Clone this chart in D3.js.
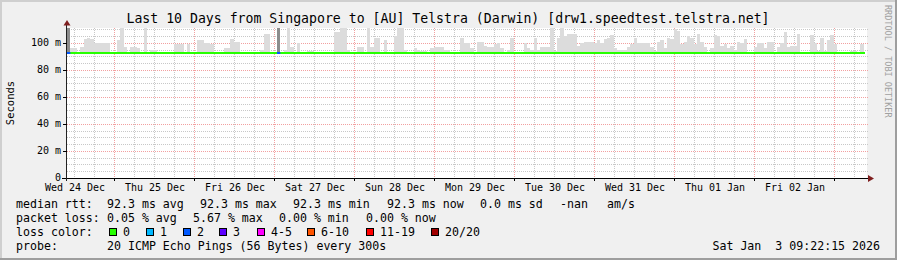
<!DOCTYPE html>
<html>
<head>
<meta charset="utf-8">
<script src="https://cdn.jsdelivr.net/npm/d3@7"></script>
<style>
 body { margin: 0; background: #f0f0f0; }
 svg { display: block; }
 text { font-family: "DejaVu Sans Mono", monospace; fill: #000; }
</style>
</head>
<body>
<script>
 // smokeping style graph: 10 days, one smoke value per hour

 var start = new Date(Date.UTC(2025, 11, 24, 9, 54)),
 	end = new Date(Date.UTC(2026, 0, 3, 9, 54));

 // median rtt in ms (flat for the whole period)
 var medianRtt = 92.3;

 // highest ping of each hour (ms), 0 = no smoke above the median
 var smokeTop = [
 	0, 96, 96, 0, 97, 103, 104, 103, 100, 100, 100, 100, 100, 0, 0, 102, 111, 97, 0, 97,
 	97, 96, 0, 111, 0, 95, 95, 0, 0, 0, 0, 0, 99, 99, 99, 0, 99, 0, 0, 102,
 	102, 100, 100, 99, 0, 0, 0, 96, 96, 103, 101, 101, 0, 0, 0, 0, 0, 0, 95, 107,
 	107, 0, 0, 0, 0, 95, 111, 97, 0, 100, 0, 0, 94, 94, 0, 0, 0, 0, 0, 0,
 	108, 108, 111, 111, 95, 0, 0, 97, 97, 0, 111, 97, 104, 104, 0, 102, 0, 0, 105, 111,
 	111, 95, 0, 0, 96, 95, 94, 94, 0, 96, 97, 97, 97, 95, 95, 93, 93, 0, 104, 100,
 	100, 96, 0, 101, 101, 98, 97, 97, 99, 100, 96, 0, 95, 104, 0, 0, 0, 100, 96, 95,
 	104, 95, 97, 97, 97, 111, 94, 104, 111, 105, 107, 107, 107, 98, 100, 101, 101, 101, 100, 102,
 	100, 103, 104, 106, 96, 95, 95, 95, 97, 99, 104, 100, 100, 100, 100, 97, 94, 101, 102, 96,
 	104, 103, 110, 109, 99, 101, 105, 104, 99, 107, 101, 97, 0, 96, 106, 105, 98, 99, 96, 98,
 	95, 101, 100, 103, 0, 0, 97, 100, 100, 96, 101, 101, 0, 97, 100, 108, 97, 98, 98, 107,
 	0, 0, 0, 106, 100, 94, 104, 94, 102, 106, 99, 0, 0, 0, 0, 94, 94, 0, 99, 0
 ];

 // hours with packet loss, and the loss class index for each
 var lossHours = [0, 63];
 var lossClass = [2, 2];
 var lossTop = 111;

 var lossLabels = ["0", "1", "2", "3", "4-5", "6-10", "11-19", "20/20"];
 var lossColors = ["#26ff00", "#00b8ff", "#0059ff", "#5e00ff", "#ff00ff", "#ff5500", "#ff0000", "#a10000"];

 var yLabels = [0, 20, 40, 60, 80, 100];

 var rttTexts = ["median rtt:", "92.3 ms avg", "92.3 ms max", "92.3 ms min", "92.3 ms now", "0.0 ms sd", "-nan", "am/s"];
 var lossTexts = ["packet loss:", "0.05 % avg", "5.67 % max", "0.00 % min", "0.00 % now"];
 var probeTexts = ["probe:", "20 ICMP Echo Pings (56 Bytes) every 300s"];
 var stamp = "Sat Jan  3 09:22:15 2026";
 var title = "Last 10 Days from Singapore to [AU] Telstra (Darwin) [drw1.speedtest.telstra.net]";

 // layout
 var W = 897, H = 260;
 var rttX = [16, 107, 200, 293, 387, 480, 560, 607];
 var lossX = [16, 107, 193, 279, 366];
 var probeX = [16, 107];
 var boxX = [109, 146, 183, 219, 257, 307, 366, 431];

 var svg = d3.select("body").append("svg")
 	.attr("width", W)
 	.attr("height", H);

 // background and 3d frame
 svg.append("rect").attr("width", W).attr("height", H).attr("fill", "#f0f0f0");
 svg.append("rect").attr("x", 0).attr("y", 0).attr("width", W).attr("height", 2).attr("fill", "#cfcfcf");
 svg.append("rect").attr("x", 0).attr("y", 0).attr("width", 2).attr("height", H).attr("fill", "#cfcfcf");
 svg.append("rect").attr("x", 0).attr("y", H - 2).attr("width", W).attr("height", 2).attr("fill", "#9e9e9e");
 svg.append("rect").attr("x", W - 2).attr("y", 0).attr("width", 2).attr("height", H).attr("fill", "#9e9e9e");

 var x = d3.scaleUtc().domain([start, end]).range([67, 867]);
 var y = d3.scaleLinear().domain([0, 111.1]).range([178, 28]);

 // canvas
 svg.append("rect")
 	.attr("x", x.range()[0]).attr("y", y.range()[1])
 	.attr("width", x.range()[1] - x.range()[0])
 	.attr("height", y.range()[0] - y.range()[1])
 	.attr("fill", "#ffffff");

 var grid = svg.append("g").attr("shape-rendering", "crispEdges");

 // minor grid lines, every 5 ms / 6 hours
 var yMinor = d3.range(5, 111, 5).filter(function (d) { return d % 20 != 0; });
 grid.selectAll(".hmin").data(yMinor).enter().append("line")
 	.attr("x1", 67).attr("x2", 869)
 	.attr("y1", function (d) { return Math.round(y(d)) + 0.5; })
 	.attr("y2", function (d) { return Math.round(y(d)) + 0.5; })
 	.attr("stroke", "#c8c8c8").attr("stroke-dasharray", "1,1");

 var xMinor = d3.utcHour.every(6).range(start, end).filter(function (d) { return d.getUTCHours() != 0; });
 grid.selectAll(".vmin").data(xMinor).enter().append("line")
 	.attr("x1", function (d) { return Math.round(x(d)) + 0.5; })
 	.attr("x2", function (d) { return Math.round(x(d)) + 0.5; })
 	.attr("y1", 28).attr("y2", 180)
 	.attr("stroke", "#c8c8c8").attr("stroke-dasharray", "1,1");

 // major grid lines (red)
 grid.selectAll(".hmaj").data(yLabels.slice(1)).enter().append("line")
 	.attr("x1", 63).attr("x2", 869)
 	.attr("y1", function (d) { return Math.round(y(d)) + 0.5; })
 	.attr("y2", function (d) { return Math.round(y(d)) + 0.5; })
 	.attr("stroke", "#f2a0a0").attr("stroke-dasharray", "1,1");

 var days = d3.utcDay.range(start, end);
 grid.selectAll(".vmaj").data(days).enter().append("line")
 	.attr("x1", function (d) { return Math.round(x(d)) + 0.5; })
 	.attr("x2", function (d) { return Math.round(x(d)) + 0.5; })
 	.attr("y1", 28).attr("y2", 181)
 	.attr("stroke", "#f2a0a0").attr("stroke-dasharray", "1,1");

 // smoke
 var hourStart = function (i) { return d3.utcHour.offset(start, i); };
 var smokeBars = smokeTop.map(function (v, i) { return { i: i, v: v }; })
 	.filter(function (d) { return d.v > medianRtt; });
 svg.append("g").attr("shape-rendering", "crispEdges")
 	.selectAll("rect").data(smokeBars).enter().append("rect")
 	.attr("x", function (d) { return x(hourStart(d.i)); })
 	.attr("width", function (d) { return x(hourStart(d.i + 1)) - x(hourStart(d.i)); })
 	.attr("y", function (d) { return y(d.v); })
 	.attr("height", function (d) { return y(medianRtt) - y(d.v); })
 	.attr("fill", "#dcdcdc");

 // loss hours: dark smoke up to the top
 svg.append("g").attr("shape-rendering", "crispEdges")
 	.selectAll("rect").data(lossHours).enter().append("rect")
 	.attr("x", function (d) { return x(hourStart(d)); })
 	.attr("width", function (d) { return x(hourStart(d + 1)) - x(hourStart(d)); })
 	.attr("y", y(lossTop))
 	.attr("height", y(medianRtt) - y(lossTop))
 	.attr("fill", "#8c8c8c");

 // median line
 var my = Math.round(y(medianRtt));
 svg.append("rect")
 	.attr("x", x(start)).attr("width", x(end) - x(start) - 2)
 	.attr("y", my - 1).attr("height", 2)
 	.attr("fill", lossColors[0]);
 svg.append("g").selectAll("rect").data(lossHours).enter().append("rect")
 	.attr("x", function (d) { return x(hourStart(d)); })
 	.attr("width", function (d) { return x(hourStart(d + 1)) - x(hourStart(d)); })
 	.attr("y", my - 1).attr("height", 2)
 	.attr("fill", function (d, i) { return lossColors[lossClass[i]]; });

 // axes
 var axes = svg.append("g").attr("shape-rendering", "crispEdges");
 axes.append("line").attr("x1", 62).attr("x2", 869).attr("y1", 178.5).attr("y2", 178.5).attr("stroke", "#000");
 axes.append("line").attr("x1", 66.5).attr("x2", 66.5).attr("y1", 181).attr("y2", 24).attr("stroke", "#222");
 axes.selectAll(".yt").data(yLabels.slice(1)).enter().append("line")
 	.attr("x1", 63).attr("x2", 67)
 	.attr("y1", function (d) { return Math.round(y(d)) + 0.5; })
 	.attr("y2", function (d) { return Math.round(y(d)) + 0.5; })
 	.attr("stroke", "#000");
 axes.selectAll(".xt").data(days).enter().append("line")
 	.attr("x1", function (d) { return Math.round(x(d)) + 0.5; })
 	.attr("x2", function (d) { return Math.round(x(d)) + 0.5; })
 	.attr("y1", 178).attr("y2", 181)
 	.attr("stroke", "#000");
 svg.append("path").attr("d", "M63.5,25.5L70.5,25.5L67,20Z").attr("fill", "#7f1f1f");
 svg.append("path").attr("d", "M868,175L874,178.5L868,182Z").attr("fill", "#7f1f1f");

 // y labels
 svg.selectAll(".ylab").data(yLabels).enter().append("text")
 	.attr("x", 61)
 	.attr("y", function (d) { return y(d) + 3.4; })
 	.attr("text-anchor", "end")
 	.style("font-size", "10px")
 	.text(function (d) { return d == 0 ? "0" : d + " m"; });

 // x labels at noon
 var noons = days.map(function (d) { return d3.utcHour.offset(d, -12); })
 	.concat([d3.utcHour.offset(days[days.length - 1], 12)])
 	.filter(function (d) { return d >= start && d <= end; });
 var fmt = d3.utcFormat("%a %d %b");
 svg.selectAll(".xlab").data(noons).enter().append("text")
 	.attr("x", function (d) { return x(d) + 1; })
 	.attr("y", 191)
 	.attr("text-anchor", "middle")
 	.style("font-size", "10px")
 	.text(function (d) { return fmt(d); });

 // title and axis name
 svg.append("text").attr("x", 448).attr("y", 23).attr("text-anchor", "middle")
 	.style("font-size", "13.2px").text(title);
 svg.append("text").attr("transform", "translate(14,103) rotate(-90)")
 	.attr("text-anchor", "middle").style("font-size", "10.5px").text("Seconds");
 svg.append("text").attr("transform", "translate(885,5) rotate(90)")
 	.style("font-size", "8.5px").style("fill", "#a0a0a0").text("RRDTOOL / TOBI OETIKER");

 // legend
 var legend = svg.append("g").style("font-size", "11.6px");
 legend.selectAll(".r1").data(rttTexts).enter().append("text")
 	.attr("x", function (d, i) { return rttX[i]; }).attr("y", 207.5).text(function (d) { return d; });
 legend.selectAll(".r2").data(lossTexts).enter().append("text")
 	.attr("x", function (d, i) { return lossX[i]; }).attr("y", 221.5).text(function (d) { return d; });
 legend.append("text").attr("x", 16).attr("y", 235.5).text("loss color:");
 legend.selectAll(".box").data(lossColors).enter().append("rect")
 	.attr("x", function (d, i) { return boxX[i] + 0.5; }).attr("y", 228.5)
 	.attr("width", 7).attr("height", 7)
 	.attr("fill", function (d) { return d; })
 	.attr("stroke", "#000").attr("shape-rendering", "crispEdges");
 legend.selectAll(".blab").data(lossLabels).enter().append("text")
 	.attr("x", function (d, i) { return boxX[i] + 14; }).attr("y", 235.5).text(function (d) { return d; });
 legend.selectAll(".r4").data(probeTexts).enter().append("text")
 	.attr("x", function (d, i) { return probeX[i]; }).attr("y", 249.5).text(function (d) { return d; });
 legend.append("text").attr("x", 880).attr("y", 249.5).attr("text-anchor", "end")
 	.style("white-space", "pre").attr("xml:space", "preserve").text(stamp);
</script>
</body>
</html>
